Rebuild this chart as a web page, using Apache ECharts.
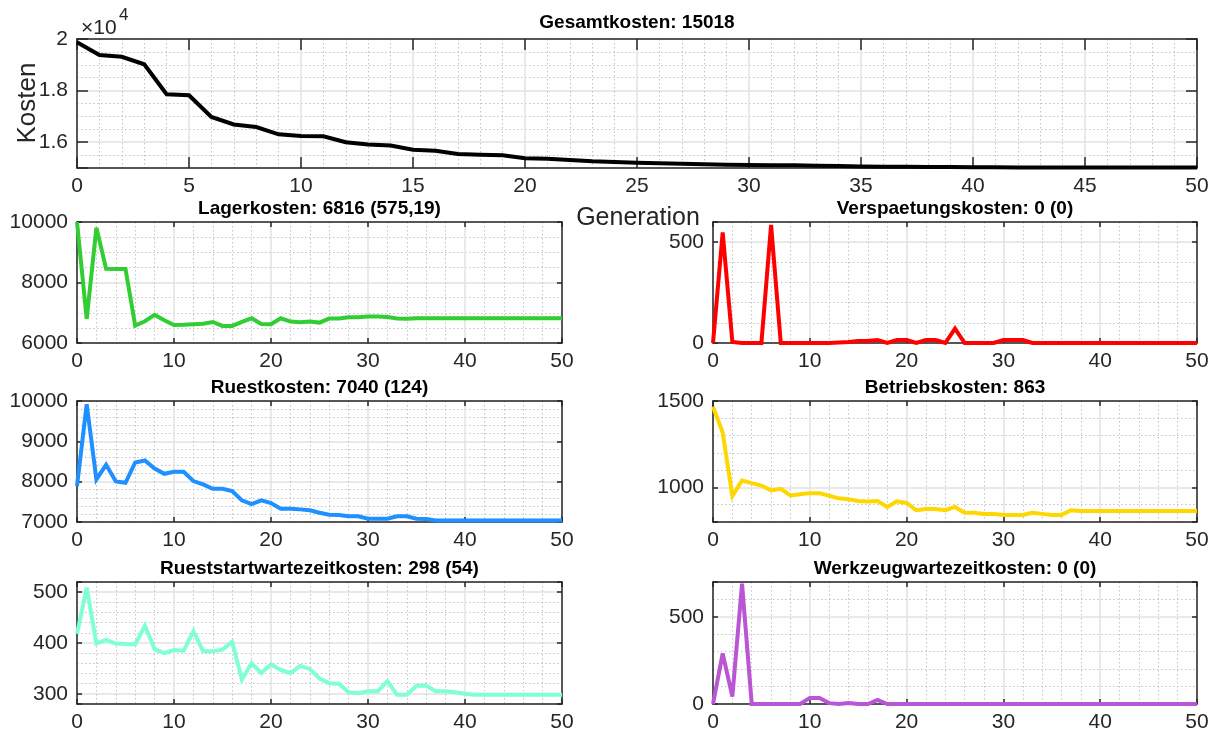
<!DOCTYPE html>
<html>
<head>
<meta charset="utf-8">
<script src="https://cdn.jsdelivr.net/npm/echarts@6/dist/echarts.min.js"></script>
<style>
  html, body { margin: 0; padding: 0; background: #ffffff; }
  #chart { width: 1218px; height: 736px; }
</style>
</head>
<body>
<div id="chart"></div>
<script>
// Generation index (x values shared by every panel)
const generations = [0,1,2,3,4,5,6,7,8,9,10,11,12,13,14,15,16,17,18,19,20,21,22,23,24,25,26,27,28,29,30,31,32,33,34,35,36,37,38,39,40,41,42,43,44,45,46,47,48,49,50];

// Cost per generation for each cost component
const gesamtkosten = [19870,19376,19312,19019,17860,17822,16981,16688,16586,16306,16242,16229,16000,15911,15872,15707,15668,15541,15516,15490,15375,15363,15312,15260,15230,15200,15180,15165,15150,15130,15120,15110,15105,15090,15075,15060,15050,15045,15040,15035,15030,15025,15022,15018,15018,15018,15018,15018,15018,15018,15018];
const lagerkosten = [10000,6796,9812,8453,8450,8450,6575,6718,6928,6751,6597,6600,6620,6640,6696,6564,6564,6700,6818,6630,6620,6818,6707,6690,6707,6674,6807,6810,6850,6850,6873,6873,6860,6807,6800,6816,6816,6816,6816,6816,6816,6816,6816,6816,6816,6816,6816,6816,6816,6816,6816];
const verspaetungskosten = [0,548,5,0,0,0,585,0,0,0,0,0,0,2,5,10,10,15,0,15,15,0,15,15,0,71,0,0,0,0,15,15,15,0,0,0,0,0,0,0,0,0,0,0,0,0,0,0,0,0,0];
const ruestkosten = [7890,9918,8055,8418,8006,7973,8476,8525,8327,8195,8245,8245,8014,7932,7825,7825,7767,7536,7445,7536,7470,7330,7330,7313,7289,7231,7181,7173,7140,7140,7082,7082,7082,7140,7140,7082,7075,7040,7040,7040,7040,7040,7040,7040,7040,7040,7040,7040,7040,7040,7040];
const betriebskosten = [1467,1318,950,1040,1025,1011,983,992,954,960,967,967,952,937,931,921,918,921,887,920,910,868,875,875,868,887,853,853,847,847,841,841,841,853,847,841,841,868,863,863,863,863,863,863,863,863,863,863,863,863,863];
const rueststartwartezeitkosten = [418,509,399,406,399,398,397,434,388,380,386,385,423,384,384,387,402,328,360,341,358,347,341,355,349,330,321,320,303,301,305,305,325,298,298,316,316,305,305,303,300,298,298,298,298,298,298,298,298,298,298];
const werkzeugwartezeitkosten = [0,290,43,690,0,0,0,0,0,0,35,35,5,0,5,0,0,23,0,0,0,0,0,0,0,0,0,0,0,0,0,0,0,0,0,0,0,0,0,0,0,0,0,0,0,0,0,0,0,0,0];

// Panel titles
const titles = [
  'Gesamtkosten: 15018',
  'Lagerkosten: 6816 (575,19)',
  'Verspaetungskosten: 0 (0)',
  'Ruestkosten: 7040 (124)',
  'Betriebskosten: 863',
  'Rueststartwartezeitkosten: 298 (54)',
  'Werkzeugwartezeitkosten: 0 (0)'
];

const FONT = "'Liberation Sans', Arial, Helvetica, sans-serif";
const AXIS_COLOR = '#262626';

// Panel layout and axis settings
const panels = [
  { data: gesamtkosten, color: '#000000', rect: [77, 39, 1120, 129], y: [15000, 20000, 2000, 4], x: [5, 5], tick: 11, scale: 10000 },
  { data: lagerkosten, color: '#32CD32', rect: [77, 222, 485, 121], y: [6000, 10000, 2000, 4], x: [10, 5], tick: 5 },
  { data: verspaetungskosten, color: '#FF0000', rect: [713, 222, 484, 121], y: [0, 600, 500, 5], x: [10, 5], tick: 5 },
  { data: ruestkosten, color: '#1E90FF', rect: [77, 401, 485, 121], y: [7000, 10000, 1000, 5], x: [10, 5], tick: 5 },
  { data: betriebskosten, color: '#FFD700', rect: [713, 401, 484, 121], y: [800, 1500, 500, 5], x: [10, 5], tick: 5 },
  { data: rueststartwartezeitkosten, color: '#7FFFD4', rect: [77, 582, 485, 122], y: [280, 520, 100, 5], x: [10, 5], tick: 5 },
  { data: werkzeugwartezeitkosten, color: '#BA55D3', rect: [713, 582, 484, 122], y: [0, 700, 500, 5], x: [10, 5], tick: 5 }
];

const majorGrid = { show: true, lineStyle: { color: '#e2e2e2', width: 1.5 } };
const minorGrid = { show: true, lineStyle: { color: '#c2c2c2', width: 1, type: [1.5, 2.5] } };
const boxLine = { show: true, onZero: false, lineStyle: { color: AXIS_COLOR, width: 1.5 } };
const labelStyle = { color: AXIS_COLOR, fontSize: 21, fontFamily: FONT };

const grid = [], xAxis = [], yAxis = [], series = [], graphic = [];

panels.forEach((p, i) => {
  const [left, top, width, height] = p.rect;
  grid.push({ left, top, width, height, containLabel: false });

  const [xMajor, xSplit] = p.x;
  const [yMin, yMax, yMajor, ySplit] = p.y;
  const tickStyle = { show: true, inside: true, length: p.tick, lineStyle: { color: AXIS_COLOR, width: 1.5 } };

  // bottom (labelled) and top (box) x axes
  xAxis.push({
    gridIndex: i, type: 'value', position: 'bottom', min: 0, max: 50, interval: xMajor,
    axisLine: boxLine, axisTick: tickStyle,
    axisLabel: Object.assign({ margin: 8 }, labelStyle),
    splitLine: majorGrid,
    minorTick: { show: false, splitNumber: xSplit },
    minorSplitLine: minorGrid
  });
  xAxis.push({
    gridIndex: i, type: 'value', position: 'top', min: 0, max: 50, interval: xMajor,
    axisLine: boxLine, axisTick: tickStyle, axisLabel: { show: false }, splitLine: { show: false }
  });

  const fmt = v => {
    if (Math.abs(v % yMajor) > 1e-6) return '';
    return p.scale ? String(v / p.scale) : String(v);
  };
  // left (labelled) and right (box) y axes
  yAxis.push({
    gridIndex: i, type: 'value', position: 'left', min: yMin, max: yMax,
    minInterval: yMajor, maxInterval: yMajor, splitNumber: 3,
    axisLine: boxLine, axisTick: tickStyle,
    axisLabel: Object.assign({ margin: 9, formatter: fmt }, labelStyle),
    splitLine: majorGrid,
    minorTick: { show: false, splitNumber: ySplit },
    minorSplitLine: minorGrid
  });
  yAxis.push({
    gridIndex: i, type: 'value', position: 'right', min: yMin, max: yMax,
    minInterval: yMajor, maxInterval: yMajor, splitNumber: 3,
    axisLine: boxLine, axisTick: tickStyle, axisLabel: { show: false }, splitLine: { show: false }
  });

  series.push({
    type: 'line',
    xAxisIndex: 2 * i, yAxisIndex: 2 * i,
    data: generations.map((g, k) => [g, p.data[k]]),
    showSymbol: false, symbol: 'none', clip: false, animation: false,
    lineStyle: { color: p.color, width: 4, join: 'miter', miterLimit: 3 },
    z: 3
  });

  graphic.push({
    type: 'text', x: left + width / 2, y: i === 0 ? 23 : top - 13,
    style: { text: titles[i], font: "bold 19px " + FONT, fill: '#000000', align: 'center', verticalAlign: 'middle' }
  });
});

// axis names and exponent of the top panel
graphic.push(
  { type: 'text', x: 28, y: 103, rotation: Math.PI / 2,
    style: { text: 'Kosten', font: '26px ' + FONT, fill: AXIS_COLOR, align: 'center', verticalAlign: 'middle' } },
  { type: 'text', x: 638, y: 218,
    style: { text: 'Generation', font: '25px ' + FONT, fill: AXIS_COLOR, align: 'center', verticalAlign: 'middle' } },
  { type: 'text', x: 81, y: 28,
    style: { text: '\u00d710', font: '21px ' + FONT, fill: AXIS_COLOR, align: 'left', verticalAlign: 'middle' } },
  { type: 'text', x: 119, y: 15,
    style: { text: '4', font: '17px ' + FONT, fill: AXIS_COLOR, align: 'left', verticalAlign: 'middle' } }
);

const chart = echarts.init(document.getElementById('chart'), null, { renderer: 'canvas' });
chart.setOption({
  animation: false,
  backgroundColor: '#ffffff',
  grid, xAxis, yAxis, series, graphic
});
</script>
</body>
</html>
